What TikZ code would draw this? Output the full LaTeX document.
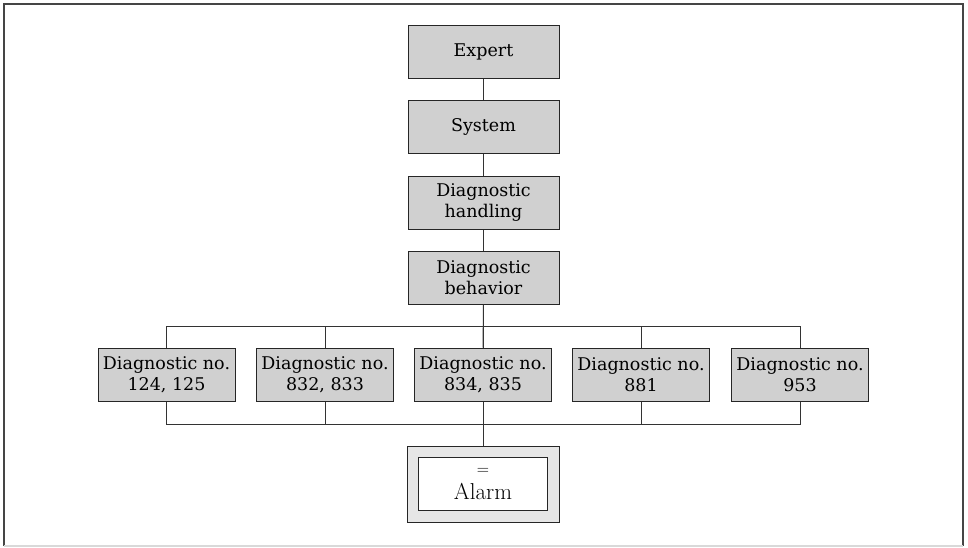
\documentclass[tikz,border=0pt]{standalone}
\usepackage{fontspec}
\setmainfont{DejaVu Serif}
\newfontfamily\lmfont{Latin Modern Roman}
\usepackage{tikz}
\usetikzlibrary{%
  calc,%
  positioning%
}
\definecolor{boxgray}{HTML}{D0D0D0}
\definecolor{alarmgray}{HTML}{E6E6E6}
\definecolor{framegray}{HTML}{454545}
\tikzset{>=latex,
  menubox/.style={draw=black!85, fill=boxgray, line width=1pt,
    minimum width=151pt, minimum height=53pt, inner sep=0pt,
    align=center, font=\fontsize{17.5}{20.5}\selectfont},
  diagbox/.style={menubox, minimum width=137pt},
  wire/.style={draw=black!80, line width=1pt}
}

\begin{document}
\begin{tikzpicture}[x=1pt,y=-1pt]
        \useasboundingbox (0,0) rectangle (968,547);
        \draw[framegray, line width=1.8pt] (4,546) -- (4,4) -- (963,4) -- (963,546);
        \draw[black!15, line width=1.2pt] (4,546) -- (963,546);

        \node[menubox] (expert) at (483.5,51.5) {Expert};
        \node[menubox] (system) at (483.5,127) {System};
        \node[menubox] (handling) at (483.5,202.5) {Diagnostic\\handling};
        \node[menubox] (behavior) at (483.5,277.5) {Diagnostic\\behavior};

        \node[diagbox] (d1) at (166.5,374.5) {Diagnostic no.\\124, 125};
        \node[diagbox] (d2) at (325,374.5) {Diagnostic no.\\832, 833};
        \node[diagbox] (d3) at (483,374.5) {Diagnostic no.\\834, 835};
        \node[diagbox] (d4) at (641,374.5) {Diagnostic no.\\881};
        \node[diagbox] (d5) at (800,374.5) {Diagnostic no.\\953};

        \node[draw=black!85, fill=alarmgray, line width=1pt, minimum width=152pt,
        minimum height=76pt] (alarm) at (483,484) {};
        \node[draw=black!85, fill=white, line width=1pt, minimum width=129pt,
        minimum height=53pt, align=center, inner sep=0pt] (alarmin) at (alarm)
        {{\lmfont\fontsize{17}{14}\selectfont =}\\[8pt]{\lmfont\fontsize{23}{20}\selectfont Alarm}};

        \coordinate (bustop) at (483,326);
        \coordinate (busbot) at (483,424);

        \draw[wire] (expert) -- (system) (system) -- (handling) (handling) -- (behavior);
        \draw[wire] (behavior) -- (d3);
        \draw[wire] (d1.north) |- (d5.north |- bustop) -- (d5.north);
        \draw[wire] (d1.south) |- (d5.south |- busbot) -- (d5.south);
        \foreach \d in {d2,d3,d4}
        {
          \draw[wire] (\d.north) -- (\d.north |- bustop);
          \draw[wire] (\d.south) -- (\d.south |- busbot);
        }
        \draw[wire] (d3.south) -- (alarm.north);
      \end{tikzpicture}
\end{document}
